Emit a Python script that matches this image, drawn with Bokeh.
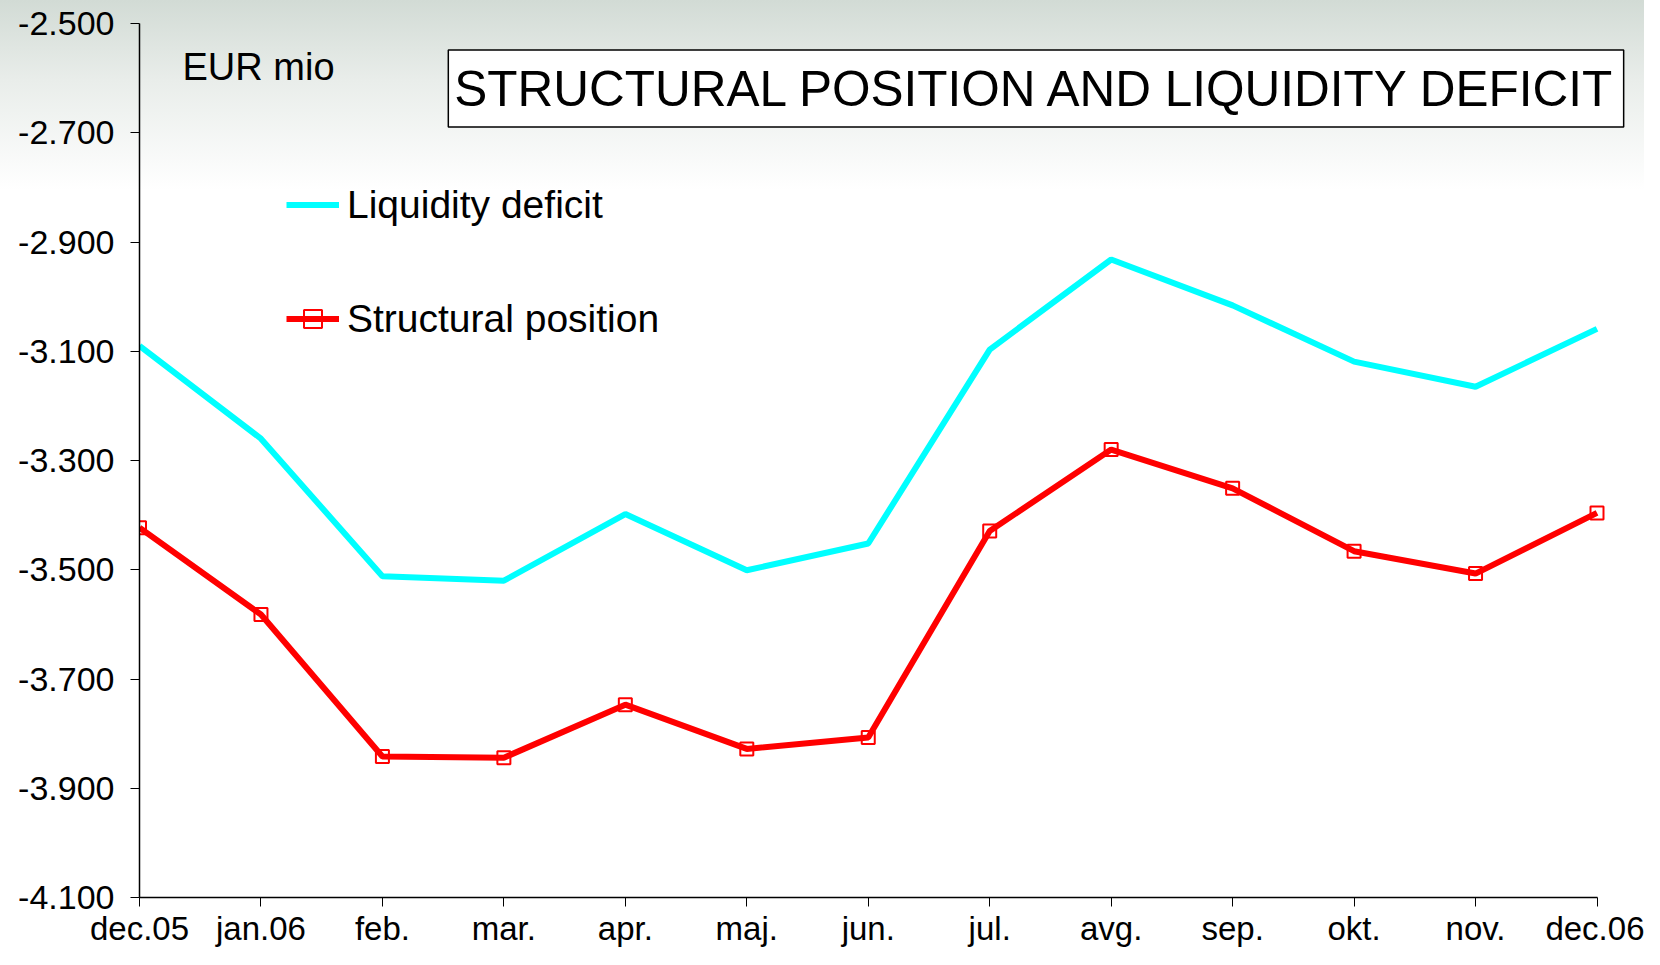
from bokeh.plotting import figure
from bokeh.models import Range1d, FixedTicker, Legend, LegendItem, Label
from bokeh.embed import file_html
from bokeh.resources import INLINE

months = ["dec.05", "jan.06", "feb.", "mar.", "apr.", "maj.", "jun.", "jul.",
          "avg.", "sep.", "okt.", "nov.", "dec.06"]
liquidity_deficit = [-3090, -3260, -3512, -3520, -3398, -3501, -3452, -3097,
                     -2932, -3016, -3119, -3165, -3059]
structural_position = [-3423, -3582, -3842, -3844, -3747, -3828, -3807, -3429,
                       -3280, -3351, -3466, -3507, -3396]
y_ticks = [-2500, -2700, -2900, -3100, -3300, -3500, -3700, -3900, -4100]

FONT = "Liberation Sans"
xs = list(range(len(months)))

W, H = 1644, 949
LEFT, TOP, BOTTOM, RIGHT = 139, 23, 52, 12
frame_w = W - LEFT - RIGHT
last_px = 1457.5                      # pixel distance from first to last month
x_end = (len(months) - 1) * frame_w / last_px

p = figure(width=W, height=H, output_backend="svg", toolbar_location=None,
           x_range=Range1d(0, x_end), y_range=Range1d(-4100, -2500),
           min_border_left=LEFT, min_border_right=RIGHT, min_border_top=TOP,
           min_border_bottom=BOTTOM)
p.background_fill_color = None
p.border_fill_color = None
p.outline_line_color = None
p.grid.visible = False
p.styles = {"background": "linear-gradient(to bottom, #d2dbd5 0px, #e9edea 80px, #ffffff 190px)"}

# axes
p.xaxis.ticker = FixedTicker(ticks=xs)
p.xaxis.bounds = (0, len(months) - 1)
p.xaxis.major_label_overrides = {i: m for i, m in enumerate(months)}
p.yaxis.ticker = FixedTicker(ticks=y_ticks)
p.yaxis.major_label_overrides = {t: f"{t:,}".replace(",", ".") for t in y_ticks}
for ax in (p.xaxis, p.yaxis):
    ax.axis_line_color = "black"
    ax.axis_line_width = 1.5
    ax.major_tick_line_color = "black"
    ax.major_tick_line_width = 1
    ax.major_tick_in = 0
    ax.minor_tick_line_color = None
    ax.major_label_text_font = FONT
    ax.major_label_text_color = "black"
p.xaxis.major_label_text_font_size = "33px"
p.yaxis.major_label_text_font_size = "34px"
p.xaxis.major_tick_out = 9
p.xaxis.major_label_standoff = 3
p.yaxis.major_tick_out = 9
p.yaxis.major_label_standoff = 16

# series
r_liq = p.line(xs, liquidity_deficit, line_color="#00ffff", line_width=6)
r_str = p.line(xs, structural_position, line_color="#ff0000", line_width=6)
r_str_m = p.scatter(xs, structural_position, marker="square", size=13,
                    fill_color=None, line_color="#ff0000", line_width=2)

legend = Legend(items=[LegendItem(label="Liquidity deficit", renderers=[r_liq]),
                       LegendItem(label="Structural position", renderers=[r_str, r_str_m])],
                location=(147, 556), padding=0, margin=0, spacing=69,
                glyph_width=53, glyph_height=45, label_height=45, label_standoff=8,
                label_text_font=FONT, label_text_font_size="39px",
                label_text_color="black",
                border_line_color=None, background_fill_color=None)
p.add_layout(legend)

p.add_layout(Label(x=0.354, y=-2579, text="EUR mio", text_font=FONT,
                   text_font_size="38px", text_baseline="middle", text_color="black"))
p.add_layout(Label(x=7.381, y=-2619, text="STRUCTURAL POSITION AND LIQUIDITY DEFICIT",
                   text_font=FONT, text_font_size="49.5px", text_align="center",
                   text_baseline="middle", text_color="black",
                   background_fill_color="white", border_line_color="black",
                   border_line_width=1.5, padding=(6, 11)))

open("out.html", "w").write(file_html(p, INLINE))
